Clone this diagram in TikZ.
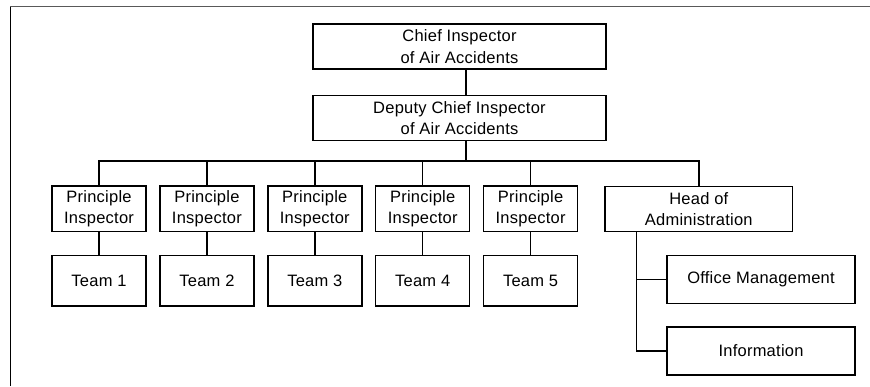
\documentclass[tikz,border=0pt]{standalone}
\usepackage{fontspec}
\setmainfont{Liberation Sans}[LetterSpace=1.5]
\usetikzlibrary{
    positioning,
    calc,
}

\begin{document}
\begin{tikzpicture}[
    x=1pt, y=1pt,
    node distance= 22.5pt and 12.4pt,
    unit/.style={draw, line width=1.5pt, align=center, inner sep=0pt, font=\fontsize{16.5}{21.7}\selectfont},
    chiefbox/.style={unit, minimum width=293pt, minimum height=45pt},
    inspector/.style={unit, minimum width=94pt, minimum height=45.5pt},
    team/.style={unit, minimum width=94pt, minimum height=50.5pt},
    admin/.style={unit, minimum width=187.7pt, minimum height=45pt},
    deptbox/.style={unit, minimum width=187.7pt, minimum height=48pt},
    link/.style={line width=1.5pt},
]
\useasboundingbox (0,0) rectangle (870,386);

% page frame
\draw[line width=1.5pt] (10.3,0) -- (10.3,379.3);
\draw[line width=1.5pt, gray!70!black] (10.3,379.3) -- (870,379.3);

\node[chiefbox] (chief) at (459.5,339.5) {Chief Inspector\\of Air Accidents};
\node[chiefbox] (deputy) [below=25pt of chief] {Deputy Chief Inspector\\of Air Accidents};

\node[inspector] (pi1) at (99,177.2) {Principle\\Inspector};
\node[inspector] (pi2) [right=of pi1] {Principle\\Inspector};
\node[inspector] (pi3) [right=of pi2] {Principle\\Inspector};
\node[inspector] (pi4) [right=of pi3] {Principle\\Inspector};
\node[inspector] (pi5) [right=of pi4] {Principle\\Inspector};

\node[team] (t1) [below=of pi1] {Team 1};
\node[team] (t2) [below=of pi2] {Team 2};
\node[team] (t3) [below=of pi3] {Team 3};
\node[team] (t4) [below=of pi4] {Team 4};
\node[team] (t5) [below=of pi5] {Team 5};

\node[admin] (head) at (698.8,177) {Head of\\Administration};
\node[deptbox] (office) at (761,106.5) {Office Management};
\node[deptbox] (info) at (761,35) {Information};

\coordinate (bus) at (0,225);
\coordinate (spine) at (636.7,0);

\draw[link] ([xshift=6.5pt]chief.south) -- ([xshift=6.5pt]deputy.north);
\draw[link] ([xshift=6.5pt]deputy.south) -- ([xshift=6.5pt]deputy.south |- bus);
\draw[link] (pi1.north) |- (head.north |- bus) -- (head.north);
\draw[link] (pi2.north) -- (pi2.north |- bus);
\draw[link] (pi3.north) -- (pi3.north |- bus);
\draw[link] (pi4.north) -- (pi4.north |- bus);
\draw[link] (pi5.north) -- (pi5.north |- bus);

\draw[link] (pi1) -- (t1);
\draw[link] (pi2) -- (t2);
\draw[link] (pi3) -- (t3);
\draw[link] (pi4) -- (t4);
\draw[link] (pi5) -- (t5);

\draw[link] (head.south -| spine) |- (info.west);
\draw[link] (spine |- office.west) -- (office.west);

\end{tikzpicture}
\end{document}
